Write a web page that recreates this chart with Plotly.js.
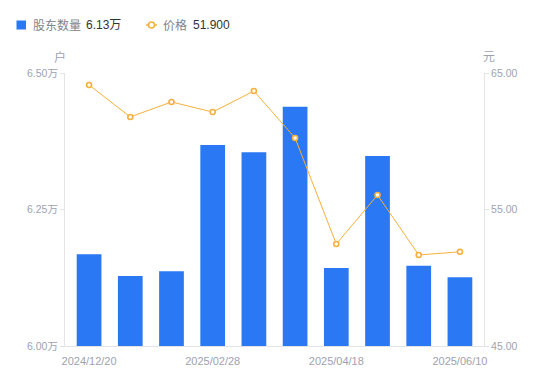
<!DOCTYPE html>
<html><head><meta charset="utf-8">
<script src="https://cdn.plot.ly/plotly-3.0.1.min.js"></script>
<style>html,body{margin:0;padding:0;background:#fff}#c{width:550px;height:381px}</style>
</head><body><div id="c"></div>
<script>
const dates = ['2024/12/20','2024/12/31','2025/02/10','2025/02/28','2025/03/20','2025/03/31','2025/04/18','2025/04/30','2025/05/20','2025/06/10'];
const holders = [6.168, 6.128, 6.137, 6.368, 6.355, 6.438, 6.143, 6.348, 6.147, 6.126]; // 万户
const prices = [64.12, 61.78, 62.88, 62.14, 63.68, 60.24, 52.47, 56.06, 51.67, 51.90];
const xTickLabels = ['2024/12/20','2025/02/28','2025/04/18','2025/06/10'];
const leftTicks = [6.00, 6.25, 6.50];
const rightTicks = [45, 55, 65];

const F = 'Liberation Sans, Arial, Noto Sans CJK SC, sans-serif';
const gray = '#9ea2b0';
const legendGray = '#80838f';
const lineGray = '#e3e4e8';
const blue = '#2a78f4';
const orange = '#f8b03c';

const traces = [
  {type:'bar', x:dates, y:holders, name:'股东数量', showlegend:false,
   marker:{color:blue}, hoverinfo:'skip'},
  {type:'scatter', mode:'lines+markers', x:dates, y:prices, yaxis:'y2', name:'价格', showlegend:false,
   line:{color:orange, width:1}, marker:{symbol:'circle', size:5, color:'#fff', line:{color:orange, width:1.6}}, hoverinfo:'skip'}
];

// legend drawn in pixel offsets from the plot's top-left corner (65, 73)
const L = 65, T = 73;
function ann(text, px, py, color, anchor) {
  return {text:text, xref:'paper', yref:'paper', x:0, y:1, xshift:px - L, yshift:T - py,
          xanchor:anchor || 'left', yanchor:'middle', showarrow:false, font:{size:12, color:color, family:F}};
}
const lastH = holders[holders.length-1].toFixed(2) + '万';
const lastP = prices[prices.length-1].toFixed(3);

const layout = {
  width:550, height:381,
  margin:{l:65, r:66, t:73, b:35},
  paper_bgcolor:'#fff', plot_bgcolor:'#fff',
  font:{family:F, size:11, color:gray},
  bargap:0.4,
  showlegend:false,
  xaxis:{type:'category', tickvals:xTickLabels, ticktext:xTickLabels, showgrid:false, zeroline:false,
         showline:true, linecolor:lineGray, linewidth:1, ticks:'', ticklabelstandoff:5,
         tickfont:{size:11, color:gray}, automargin:false},
  yaxis:{range:[6.0,6.5], tickvals:leftTicks, ticktext:leftTicks.map(v => v.toFixed(2) + '万'),
         showgrid:false, zeroline:false, showline:true, linecolor:lineGray, linewidth:1,
         ticks:'outside', ticklen:4, tickcolor:lineGray, tickfont:{size:10.5, color:gray}, automargin:false},
  yaxis2:{overlaying:'y', side:'right', range:[45,65], tickvals:rightTicks, ticktext:rightTicks.map(v => v.toFixed(2)),
          showgrid:false, zeroline:false, showline:true, linecolor:lineGray, linewidth:1,
          ticks:'outside', ticklen:4, tickcolor:lineGray, tickfont:{size:10.5, color:gray}, automargin:false},
  shapes:[
    {type:'rect', xref:'paper', yref:'paper', xsizemode:'pixel', ysizemode:'pixel', xanchor:0, yanchor:1,
     x0:16.5 - L, x1:26 - L, y0:T - 20.5, y1:T - 29.5, fillcolor:blue, line:{width:0}},
    {type:'line', xref:'paper', yref:'paper', xsizemode:'pixel', ysizemode:'pixel', xanchor:0, yanchor:1,
     x0:146 - L, x1:157 - L, y0:T - 25, y1:T - 25, line:{color:orange, width:1.5}},
    {type:'circle', xref:'paper', yref:'paper', xsizemode:'pixel', ysizemode:'pixel', xanchor:0, yanchor:1,
     x0:148.5 - L, x1:154.5 - L, y0:T - 22, y1:T - 28, fillcolor:'#fff', line:{color:orange, width:1.6}}
  ],
  annotations:[
    ann('股东数量', 31, 25, legendGray),
    ann(lastH, 84, 25, '#333333'),
    ann('价格', 161, 25, legendGray),
    ann(lastP, 191, 25, '#333333'),
    {text:'户', xref:'paper', yref:'paper', x:0, y:1, xshift:-5, yshift:16, xanchor:'center', yanchor:'middle', showarrow:false, font:{size:12, color:gray}},
    {text:'元', xref:'paper', yref:'paper', x:1, y:1, xshift:5, yshift:16, xanchor:'center', yanchor:'middle', showarrow:false, font:{size:12, color:gray}}
  ]
};
Plotly.newPlot('c', traces, layout, {displayModeBar:false, staticPlot:true});
</script></body></html>
